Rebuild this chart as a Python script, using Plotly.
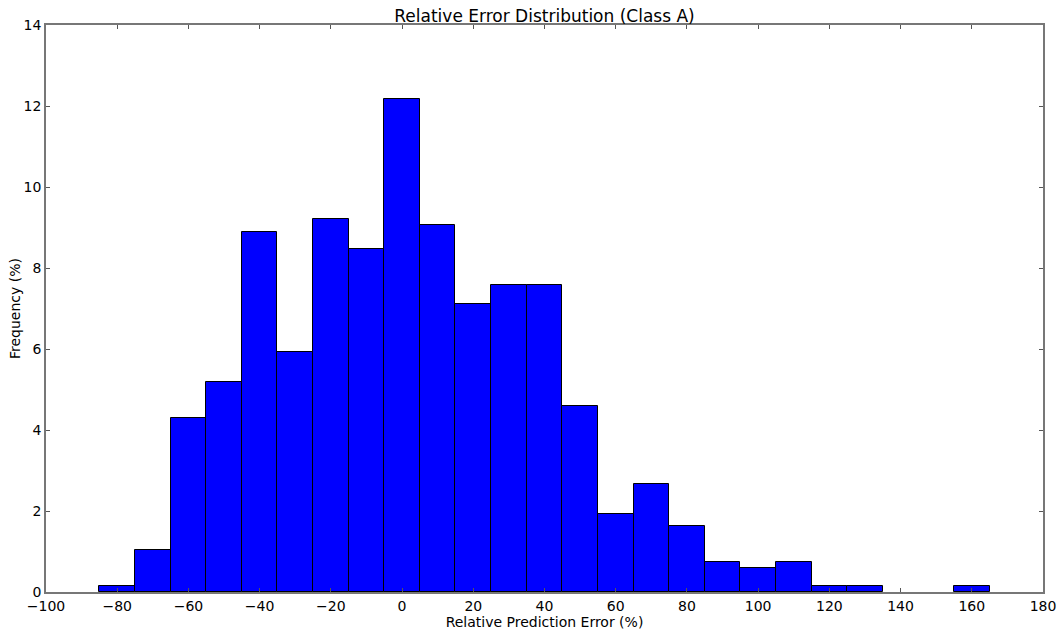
import plotly.graph_objects as go

bin_left = list(range(-85, 165, 10))
freq = [0.15, 1.04, 4.30, 5.19, 8.90, 5.93, 9.20, 8.46, 12.17, 9.05, 7.12, 7.57, 7.57,
        4.60, 1.93, 2.67, 1.63, 0.74, 0.59, 0.74, 0.15, 0.15, 0.0, 0.0, 0.15]
x_ticks = list(range(-100, 181, 20))
y_ticks = list(range(0, 15, 2))

centers = [b + 5 for b in bin_left]
edge_widths = [1 if f > 0 else 0 for f in freq]

fig = go.Figure(go.Bar(
    x=centers, y=freq, width=10,
    marker=dict(color="#0000ff", line=dict(color="black", width=edge_widths)),
))

axis_common = dict(
    showgrid=False, zeroline=False, showline=True, linecolor="#777777", linewidth=1.5,
    mirror="ticks", ticks="inside", ticklen=4, tickcolor="#555555", automargin=False,
    tickfont=dict(family="DejaVu Sans", size=14, color="black"),
)

fig.update_layout(
    width=1060, height=634,
    margin=dict(l=46, r=17, t=25, b=42),
    plot_bgcolor="white", paper_bgcolor="white",
    bargap=0,
    showlegend=False,
    title=dict(text="Relative Error Distribution (Class A)", x=(46 + 1043) / 2 / 1060, xanchor="center",
               y=1 - 16 / 634, yanchor="middle",
               font=dict(family="DejaVu Sans", size=17, color="black")),
    xaxis=dict(range=[-100, 180], tickvals=x_ticks,
               ticktext=[("\u2212" + str(-v)) if v < 0 else str(v) for v in x_ticks],
               title=dict(text="Relative Prediction Error (%)", standoff=0,
                          font=dict(family="DejaVu Sans", size=14, color="black")),
               **axis_common),
    yaxis=dict(range=[0, 14], tickvals=y_ticks,
               title=dict(text="Frequency (%)", standoff=0,
                          font=dict(family="DejaVu Sans", size=14, color="black")),
               **axis_common),
)

fig.write_html("out.html")
